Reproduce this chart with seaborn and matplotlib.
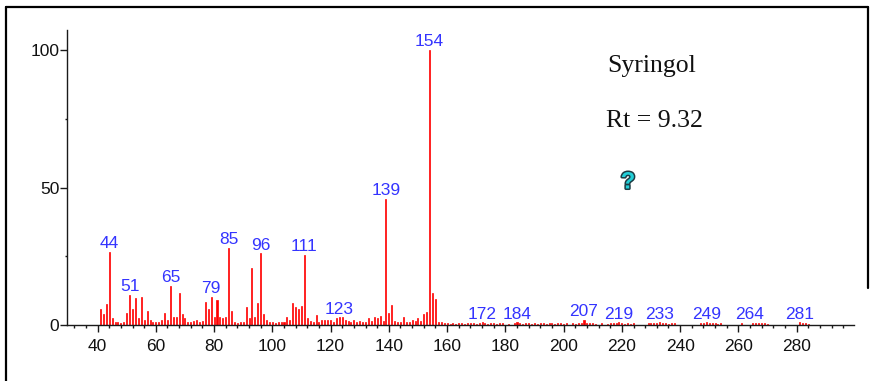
import matplotlib
matplotlib.use('Agg')
import matplotlib.pyplot as plt
import seaborn as sns
import pandas as pd
from matplotlib.ticker import MultipleLocator, FixedLocator
from matplotlib.lines import Line2D
import matplotlib.patheffects as pe

# ---- data (m/z, relative intensity) ----
mz_main = [41, 42, 43, 44, 45, 46, 47, 48, 49, 50, 51, 52, 53, 54, 55, 56, 57, 58, 59, 60,
           61, 62, 63, 64, 65, 66, 67, 68, 69, 70, 71, 72, 73, 74, 75, 76, 77, 78, 79, 80,
           81, 82, 83, 84, 85, 86, 87, 88, 89, 90, 91, 92, 93, 94, 95, 96, 97, 98, 99, 100,
           101, 102, 103, 104, 105, 106, 107, 108, 109, 110, 111, 112, 113, 114, 115, 116, 117, 118, 119, 120,
           121, 122, 123, 124, 125, 126, 127, 128, 129, 130, 131, 132, 133, 134, 135, 136, 137, 138, 139, 140,
           141, 142, 143, 144, 145, 146, 147, 148, 149, 150, 151, 152, 153, 154, 155, 156, 157, 158, 159, 160]
int_main = [6.0, 4.0, 7.6, 26.5, 2.4, 1.0, 1.2, 0.8, 1.2, 4.5, 10.9, 6.0, 9.7, 2.5, 10.3, 2.0, 5.2, 2.0, 1.0, 1.2,
            1.0, 2.0, 4.2, 1.8, 14.2, 3.0, 3.0, 11.8, 4.0, 2.5, 1.0, 1.2, 1.5, 1.8, 1.0, 1.5, 8.5, 6.0, 10.3, 3.0,
            9.1, 3.0, 2.5, 3.0, 28.1, 5.0, 1.0, 0.8, 1.2, 1.0, 6.4, 2.5, 20.8, 3.0, 7.9, 26.1, 4.0, 2.0, 1.0, 1.2,
            0.8, 1.0, 1.2, 1.0, 3.0, 2.0, 7.9, 6.5, 6.0, 6.8, 25.5, 2.5, 1.5, 1.0, 3.5, 1.0, 2.0, 2.0, 2.0, 2.0,
            1.0, 2.5, 2.8, 2.8, 2.0, 1.5, 1.0, 2.0, 1.0, 1.5, 1.2, 1.0, 2.5, 1.5, 2.8, 2.4, 3.4, 1.6, 45.8, 4.2,
            7.3, 1.5, 1.2, 1.0, 2.8, 1.2, 1.0, 2.0, 1.5, 2.5, 1.5, 4.0, 4.8, 100.0, 11.8, 9.5, 1.2, 1.2, 0.6, 0.6]
mz_minor = [161, 162, 163, 164, 165, 166, 167, 168, 169, 170, 171, 172, 173, 174, 175, 176, 177, 178, 179, 181,
            183, 184, 185, 186, 187, 188, 189, 190, 191, 192, 193, 194, 195, 196, 197, 198, 199, 200, 201, 203,
            204, 205, 206, 207, 208, 209, 210, 211, 213, 215, 216, 217, 218, 219, 220, 221, 222, 223, 224, 229,
            230, 231, 232, 233, 234, 235, 236, 237, 238, 247, 248, 249, 250, 251, 252, 253, 254, 261, 265, 266,
            267, 268, 269, 270, 281, 282, 283, 284]
int_minor = [0.5, 0.7, 0.5, 0.8, 0.6, 0.5, 0.7, 0.6, 0.8, 0.5, 0.6, 1.0, 0.7, 0.5, 0.8, 0.6, 0.5, 0.7, 0.6, 0.5,
             0.6, 1.0, 0.7, 0.5, 0.6, 0.7, 0.5, 0.6, 0.5, 0.7, 0.6, 0.5, 0.8, 0.6, 0.5, 0.6, 0.7, 0.5, 0.6, 0.7,
             0.5, 0.8, 0.6, 1.8, 0.7, 0.6, 0.8, 0.5, 0.6, 0.5, 0.7, 0.6, 0.8, 1.0, 0.7, 0.5, 0.6, 0.5, 0.6, 0.6,
             0.7, 0.8, 0.6, 1.0, 0.7, 0.8, 0.5, 0.6, 0.7, 0.6, 0.7, 1.0, 0.8, 0.6, 0.7, 0.5, 0.6, 0.8, 0.6, 0.7,
             0.8, 0.6, 0.7, 0.5, 1.0, 0.8, 0.6, 0.5]
label_mz = [44, 51, 65, 79, 85, 96, 111, 123, 139, 154, 172, 184, 207, 219, 233, 249, 264, 281]
compound = "Syringol"
rt_text = "Rt = 9.32"
x_ticks = list(range(40, 281, 20))
y_ticks = [0, 50, 100]

mz = mz_main + mz_minor
intensity = int_main + int_minor
lookup = dict(zip(mz, intensity))

sns.set_style('ticks')
plt.rcParams['font.family'] = ['Liberation Sans', 'DejaVu Sans']

fig = plt.figure(figsize=(8.75, 3.81), dpi=100)
ax = fig.add_axes([67 / 875, 56 / 381, (854 - 67) / 875, (325 - 30) / 381])

df = pd.DataFrame({'mz': mz, 'intensity': intensity})
sns.barplot(data=df, x='mz', y='intensity', native_scale=True, width=0.35,
            color='#ff0000', saturation=1, errorbar=None, ax=ax,
            edgecolor='#ff0000', linewidth=0.5)

for m in label_mz:
    ax.annotate(str(m), (m, lookup.get(m, 1.0)), xytext=(0, 0.5), textcoords='offset points',
                ha='center', va='bottom', color='#3434ff', fontsize=12.5)

ax.set_xlim(29.5, 299.7)
ax.set_ylim(0, 107.3)
ax.xaxis.set_major_locator(FixedLocator(x_ticks))
ax.xaxis.set_minor_locator(MultipleLocator(4))
ax.yaxis.set_major_locator(FixedLocator(y_ticks))
ax.yaxis.set_minor_locator(MultipleLocator(25))
ax.set_xticklabels([str(t) for t in x_ticks])
ax.set_yticklabels([str(t) for t in y_ticks])
ax.set_xlabel('')
ax.set_ylabel('')
sns.despine(ax=ax)
for s in ['left', 'bottom']:
    ax.spines[s].set_linewidth(1.0)
    ax.spines[s].set_color('#1a1a1a')
ax.tick_params(axis='both', which='major', direction='out', length=5, width=1.0,
               color='#1a1a1a', labelsize=12.5, labelcolor='#111111')
ax.tick_params(axis='x', which='major', pad=5)
ax.tick_params(axis='y', which='major', pad=0.5)
ax.tick_params(axis='x', which='minor', direction='out', length=2.5, width=1.0, color='#1a1a1a')
ax.tick_params(axis='y', which='minor', direction='out', length=1.5, width=1.0, color='#1a1a1a')
ax.set_facecolor('white')
ax.grid(False)

fig.text(607 / 875, 1 - 71.7 / 381, compound, family='Liberation Serif', fontsize=18.5,
         color='#111111', ha='left', va='baseline')
fig.text(606 / 875, 1 - 126.7 / 381, rt_text, family='Liberation Serif', fontsize=18.5,
         color='#111111', ha='left', va='baseline')
fig.text(628 / 875, 1 - 182 / 381, '?', family='Liberation Sans', fontsize=17, fontweight='bold',
         color='#22cfd8', ha='center', va='center',
         path_effects=[pe.withStroke(linewidth=2.2, foreground='#1c3c44')])

# outer frame
fig.add_artist(Line2D([6 / 875, 6 / 875], [0, 1 - 7 / 381], transform=fig.transFigure,
                      color='black', lw=1.6))
fig.add_artist(Line2D([6 / 875, 868 / 875], [1 - 7 / 381, 1 - 7 / 381], transform=fig.transFigure,
                      color='black', lw=1.6))
fig.add_artist(Line2D([868 / 875, 868 / 875], [1 - 288 / 381, 1 - 7 / 381], transform=fig.transFigure,
                      color='black', lw=1.6))

fig.savefig('out.png', dpi=100, facecolor='white')
